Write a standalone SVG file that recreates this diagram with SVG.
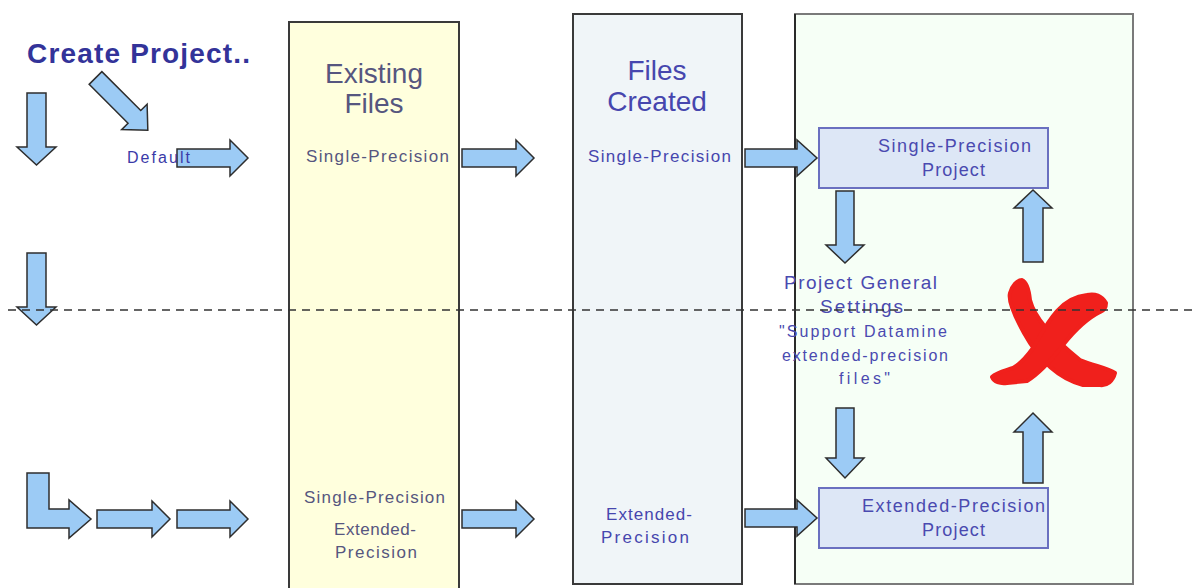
<svg xmlns="http://www.w3.org/2000/svg" width="1192" height="588" viewBox="0 0 1192 588">
  <style>
    text { font-family: "Liberation Sans", Arial, sans-serif; }
    .arrow { fill: #9ccbf5; stroke: #2e2e2e; stroke-width: 1.5; stroke-linejoin: miter; }
    .col { stroke-width: 2; }
    .title { font-size: 28px; }
    .lbl { font-size: 17px; }
    .proj { fill: #dde7f6; stroke: #6a70c0; stroke-width: 2; }
    .ptxt { font-size: 18px; fill: #4a4ab0; }
    .gray { fill: #56567f; }
    .blue { fill: #4646ae; }
    .x { fill: #f0201c; stroke: #f0201c; stroke-width: 4; stroke-linejoin: round; }
  </style>

  <rect width="1192" height="588" fill="#ffffff"/>

  <!-- column: existing files -->
  <g id="existing-files">
    <rect class="col" x="289" y="22" width="170" height="580" fill="#ffffdd" stroke="#3a3a3a"/>
    <text class="title gray" x="374" y="83" text-anchor="middle">Existing</text>
    <text class="title gray" x="374" y="113" text-anchor="middle">Files</text>
    <text class="lbl gray" x="306" y="162" textLength="143" lengthAdjust="spacing">Single-Precision</text>
    <text class="lbl gray" x="304" y="503" textLength="141" lengthAdjust="spacing">Single-Precision</text>
    <text class="lbl gray" x="334" y="535" textLength="82" lengthAdjust="spacing">Extended-</text>
    <text class="lbl gray" x="335" y="558" textLength="82" lengthAdjust="spacing">Precision</text>
  </g>

  <!-- column: files created -->
  <g id="files-created">
    <rect class="col" x="573" y="14" width="169" height="570" fill="#f0f5f8" stroke="#3a3a3a"/>
    <text class="title blue" x="657" y="80" text-anchor="middle">Files</text>
    <text class="title blue" x="657" y="111" text-anchor="middle">Created</text>
    <text class="lbl blue" x="588" y="162" textLength="143" lengthAdjust="spacing">Single-Precision</text>
    <text class="lbl blue" x="606" y="520" textLength="86" lengthAdjust="spacing">Extended-</text>
    <text class="lbl blue" x="601" y="543" textLength="88" lengthAdjust="spacing">Precision</text>
  </g>

  <!-- column: projects -->
  <g id="projects-panel">
    <rect x="795" y="14" width="338" height="570" fill="#f6fff6" stroke="#7a7a7a" stroke-width="2"/>
    <line x1="795" y1="14" x2="795" y2="584" stroke="#111" stroke-width="1.5"/>
  </g>

  <g id="single-precision-project">
    <rect class="proj" x="819" y="128" width="229" height="60"/>
    <text class="ptxt" x="878" y="152" textLength="153" lengthAdjust="spacing">Single-Precision</text>
    <text class="ptxt" x="922" y="176" textLength="63" lengthAdjust="spacing">Project</text>
  </g>

  <g id="extended-precision-project">
    <rect class="proj" x="819" y="488" width="229" height="60"/>
    <text class="ptxt" x="862" y="512" textLength="183" lengthAdjust="spacing">Extended-Precision</text>
    <text class="ptxt" x="922" y="536" textLength="63" lengthAdjust="spacing">Project</text>
  </g>

  <!-- connectors: block arrows -->
  <g id="connectors">
    <!-- start column -->
    <polygon class="arrow" points="27,93 46,93 46,147 56,147 36.5,165 17,147 27,147"/>
    <polygon class="arrow" transform="translate(95.5,78) rotate(45)" points="0,-9 55,-9 55,-18 74,0 55,18 55,9 0,9"/>
    <polygon class="arrow" points="27,253 46,253 46,307 56,307 36.5,325 17,307 27,307"/>
    <polygon class="arrow" points="27,473 49,473 49,509 69,509 69,500 91,519 69,538 69,528 27,528"/>
    <polygon class="arrow" points="97,510 152,510 152,501 170,519 152,537 152,528 97,528"/>
    <polygon class="arrow" points="177,510 230,510 230,501 248,519 230,537 230,528 177,528"/>
    <polygon class="arrow" points="177,149 230,149 230,140 248,158 230,176 230,167 177,167"/>

    <!-- existing files to files created -->
    <polygon class="arrow" points="462,149 516,149 516,140 534,158 516,176 516,167 462,167"/>
    <polygon class="arrow" points="462,510 516,510 516,501 534,519 516,537 516,528 462,528"/>

    <!-- files created to projects -->
    <polygon class="arrow" points="745,149 797,149 797,140 817,158 797,176 797,167 745,167"/>
    <polygon class="arrow" points="745,509 797,509 797,500 817,518 797,536 797,527 745,527"/>

    <!-- between projects and settings -->
    <polygon class="arrow" points="836,191 854,191 854,245 864,245 845,263 826,245 836,245"/>
    <polygon class="arrow" points="836,408 854,408 854,458 864,458 845,478 826,458 836,458"/>
    <polygon class="arrow" points="1023,262 1043,262 1043,208 1052,208 1033,190 1014,208 1023,208"/>
    <polygon class="arrow" points="1023,483 1043,483 1043,432 1052,432 1033,413 1014,432 1023,432"/>
  </g>

  <!-- start label -->
  <g id="create-project">
    <text x="27" y="63" font-size="28" font-weight="bold" fill="#333399" textLength="223" lengthAdjust="spacing">Create Project..</text>
    <text x="127" y="163" font-size="16" fill="#3a3aa8" textLength="63" lengthAdjust="spacing">Default</text>
  </g>

  <!-- settings note -->
  <g id="project-settings" fill="#4a4ab0">
    <text x="784" y="289" font-size="19" textLength="153" lengthAdjust="spacing">Project General</text>
    <text x="820" y="313" font-size="19" textLength="83" lengthAdjust="spacing">Settings</text>
    <text x="779" y="337" font-size="16" textLength="168" lengthAdjust="spacing">"Support Datamine</text>
    <text x="782" y="361" font-size="16" textLength="166" lengthAdjust="spacing">extended-precision</text>
    <text x="839" y="384" font-size="16" textLength="51" lengthAdjust="spacing">files"</text>
  </g>

  <!-- red cross: extended files cannot go back to single precision -->
  <g id="not-allowed">
    <path class="x" d="M1022,280 C1027,282 1029,290 1030,300 C1035,320 1055,340 1080,360 C1095,366 1108,368 1115,373 C1113,381 1107,386 1100,385 L1083,385 C1060,379 1040,362 1024,333 C1014,315 1008,300 1010,293 C1012,286 1017,280 1022,280 Z"/>
    <path class="x" d="M1087,295 C1095,293 1102,296 1106,303 C1106,308 1103,311 1100,312 C1088,318 1075,330 1063,345 C1050,362 1040,373 1027,381 L1007,383 C1000,384 994,382 992,377 C997,372 1004,371 1013,368 C1022,363 1028,355 1033,348 C1040,336 1047,322 1057,311 C1066,301 1077,296 1087,295 Z"/>
  </g>

  <!-- divider -->
  <line x1="8" y1="310" x2="1192" y2="310" stroke="#333" stroke-width="1.5" stroke-dasharray="8 6"/>
</svg>
